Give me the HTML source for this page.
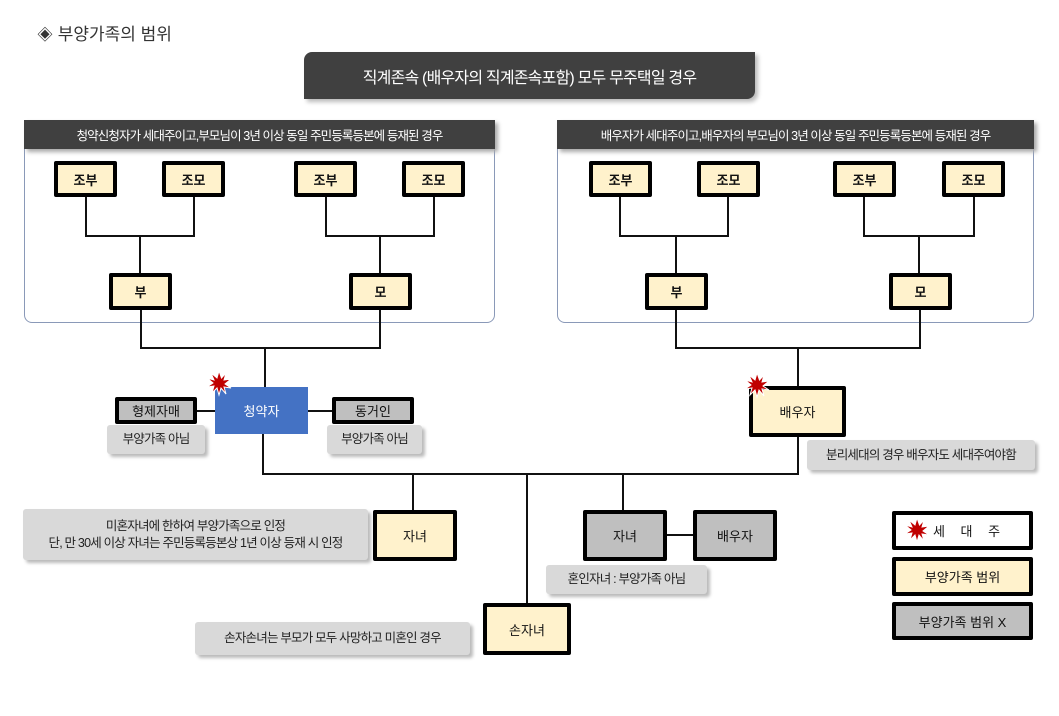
<!DOCTYPE html>
<html><head><meta charset="utf-8"><style>
*{margin:0;padding:0;box-sizing:border-box}
body{width:1059px;height:716px;background:#fff;position:relative;overflow:hidden;font-family:"Liberation Sans","Noto Sans CJK KR","NanumGothic",sans-serif;color:#222}
.a{position:absolute}
.b{position:absolute;border:4px solid #000;border-radius:2px;display:flex;align-items:center;justify-content:center;font-size:13px;font-weight:bold;color:#111}
.c{background:#fff2cc}
.g{background:#bfbfbf}
.n{position:absolute;background:#d9d9d9;box-shadow:3px 3px 3px #bbb;display:flex;align-items:center;justify-content:center;font-size:12.5px;color:#222;letter-spacing:-0.8px;text-align:center;line-height:17px;border-radius:3px}
.panel{position:absolute;border:1px solid #8a99b8;border-radius:0 0 8px 8px}
.ph{position:absolute;left:-1px;right:-1px;top:-1px;height:29px;background:#404040;color:#fff;font-size:12.5px;letter-spacing:-0.9px;display:flex;align-items:center;justify-content:center;box-shadow:3px 3px 4px #aaa}
</style></head><body>
<div class="a" style="left:37px;top:20px;font-size:17px;color:#333">◈ 부양가족의 범위</div>
<div class="a" style="left:304px;top:52px;width:451px;height:47px;background:#404040;border-radius:8px 0 8px 0;color:#fff;font-size:16px;display:flex;align-items:center;justify-content:center;letter-spacing:-0.8px;box-shadow:3px 3px 4px #bbb">직계존속 (배우자의 직계존속포함) 모두 무주택일 경우</div>

<div class="panel" style="left:24px;top:120px;width:471px;height:203px"><div class="ph">청약신청자가 세대주이고,부모님이 3년 이상 동일 주민등록등본에 등재된 경우</div></div>
<div class="panel" style="left:557px;top:120px;width:477px;height:203px"><div class="ph">배우자가 세대주이고,배우자의 부모님이 3년 이상 동일 주민등록등본에 등재된 경우</div></div>

<svg class="a" style="left:0;top:0" width="1059" height="716">
<g stroke="#111" stroke-width="2" fill="none">
<polyline points="86,196 86,236 194,236 194,196"/><line x1="140" y1="236" x2="140" y2="273"/>
<polyline points="326,196 326,236 434,236 434,196"/><line x1="380" y1="236" x2="380" y2="273"/>
<polyline points="620,196 620,236 728,236 728,196"/><line x1="676" y1="236" x2="676" y2="273"/>
<polyline points="864,196 864,236 974,236 974,196"/><line x1="919" y1="236" x2="919" y2="273"/>
<polyline points="141,309 141,348 380,348 380,309"/><line x1="265" y1="348" x2="265" y2="387"/>
<polyline points="676,309 676,348 920,348 920,309"/><line x1="798" y1="348" x2="798" y2="387"/>
<line x1="196" y1="411" x2="215" y2="411"/><line x1="308" y1="411" x2="332" y2="411"/>
<polyline points="263,434 263,474 798,474 798,437"/>
<line x1="413" y1="474" x2="413" y2="510"/><line x1="527" y1="474" x2="527" y2="603"/><line x1="623" y1="474" x2="623" y2="510"/>
<line x1="666" y1="535" x2="693" y2="535"/>
</g>
</svg>

<div class="b c" style="left:54px;top:161px;width:63px;height:36px">조부</div>
<div class="b c" style="left:162px;top:161px;width:63px;height:36px">조모</div>
<div class="b c" style="left:294px;top:161px;width:63px;height:36px">조부</div>
<div class="b c" style="left:402px;top:161px;width:63px;height:36px">조모</div>
<div class="b c" style="left:109px;top:273px;width:63px;height:37px">부</div>
<div class="b c" style="left:349px;top:273px;width:63px;height:37px">모</div>
<div class="b c" style="left:589px;top:161px;width:63px;height:36px">조부</div>
<div class="b c" style="left:697px;top:161px;width:63px;height:36px">조모</div>
<div class="b c" style="left:833px;top:161px;width:63px;height:36px">조부</div>
<div class="b c" style="left:942px;top:161px;width:63px;height:36px">조모</div>
<div class="b c" style="left:645px;top:273px;width:63px;height:37px">부</div>
<div class="b c" style="left:889px;top:273px;width:63px;height:37px">모</div>

<div class="a" style="left:215px;top:387px;width:93px;height:47px;background:#4472c4;color:#fff;font-size:13px;display:flex;align-items:center;justify-content:center">청약자</div>
<div class="b g" style="left:115px;top:397px;width:82px;height:27px;font-weight:normal">형제자매</div>
<div class="n" style="left:107px;top:425px;width:98px;height:29px">부양가족 아님</div>
<div class="b g" style="left:332px;top:397px;width:82px;height:27px;font-weight:normal">동거인</div>
<div class="n" style="left:327px;top:425px;width:95px;height:29px">부양가족 아님</div>

<div class="b c" style="left:749px;top:386px;width:97px;height:51px;font-weight:normal">배우자</div>
<div class="n" style="left:807px;top:440px;width:228px;height:30px">분리세대의 경우 배우자도 세대주여야함</div>

<div class="n" style="left:23px;top:509px;width:345px;height:51px">미혼자녀에 한하여 부양가족으로 인정<br>단, 만 30세 이상 자녀는 주민등록등본상 1년 이상 등재 시 인정</div>
<div class="b c" style="left:373px;top:510px;width:84px;height:51px;font-weight:normal">자녀</div>
<div class="b g" style="left:583px;top:510px;width:84px;height:51px;font-weight:normal">자녀</div>
<div class="b g" style="left:693px;top:510px;width:84px;height:51px;font-weight:normal">배우자</div>
<div class="n" style="left:546px;top:565px;width:161px;height:29px">혼인자녀 : 부양가족 아님</div>
<div class="b c" style="left:483px;top:603px;width:88px;height:52px;font-weight:normal">손자녀</div>
<div class="n" style="left:195px;top:622px;width:275px;height:33px">손자손녀는 부모가 모두 사망하고 미혼인 경우</div>

<div class="b" style="left:892px;top:511px;width:141px;height:39px;background:#fff;font-weight:normal;letter-spacing:6px;padding-left:14px">세 대 주</div>
<div class="b c" style="left:892px;top:557px;width:141px;height:39px;font-weight:normal">부양가족 범위</div>
<div class="b g" style="left:892px;top:602px;width:141px;height:38px;font-weight:normal">부양가족 범위 X</div>

<svg class="a" style="left:0;top:0" width="1059" height="716">
<defs><polygon id="s" fill="#c00000" stroke="#fff" stroke-width="1" points="0,-12 2.5,-5 7,-10 5,-3 12,-4 6,1 12,5 5,4 7,11 2,5 0,12 -2,5 -7,10 -5,3 -12,4 -6,0 -12,-5 -5,-3 -8,-10 -2,-5"/></defs>
<use href="#s" x="219" y="383"/>
<use href="#s" x="757" y="385"/>
<use href="#s" x="917" y="530"/>
</svg>
</body></html>
